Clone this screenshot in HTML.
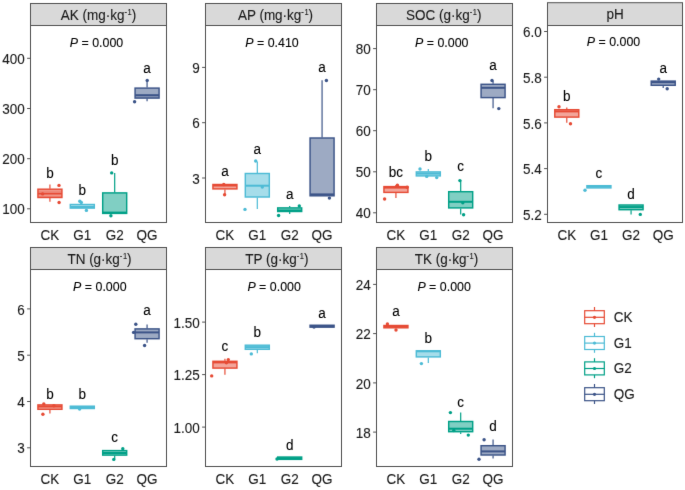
<!DOCTYPE html>
<html><head><meta charset="utf-8"><style>
html,body{margin:0;padding:0;background:#fff;}
svg{display:block;font-family:"Liberation Sans", sans-serif;}
text{stroke:#000;stroke-width:0.1px;paint-order:stroke;}
</style></head><body>
<svg width="685" height="490" viewBox="0 0 685 490">
<defs><filter id="bl" x="0" y="0" width="685" height="490" filterUnits="userSpaceOnUse" color-interpolation-filters="sRGB"><feConvolveMatrix order="3" kernelMatrix="0.0052 0.0619 0.0052 0.0619 0.7314 0.0619 0.0052 0.0619 0.0052" edgeMode="duplicate"/></filter>
<filter id="bt" x="0" y="0" width="685" height="490" filterUnits="userSpaceOnUse" color-interpolation-filters="sRGB"><feConvolveMatrix order="3" kernelMatrix="0.0052 0.0619 0.0052 0.0619 0.7314 0.0619 0.0052 0.0619 0.0052" edgeMode="duplicate"/></filter></defs>
<g filter="url(#bl)"><rect width="685" height="490" fill="#fff"/>
<rect x="30.5" y="3.5" width="136" height="22" fill="#D9D9D9" stroke="#505050" stroke-width="1"/>
<rect x="30.5" y="25.5" width="136" height="197" fill="#fff" stroke="#505050" stroke-width="1"/>
<line x1="27.1" y1="208.8" x2="30.5" y2="208.8" stroke="#505050" stroke-width="1"/>
<line x1="27.1" y1="158.7" x2="30.5" y2="158.7" stroke="#505050" stroke-width="1"/>
<line x1="27.1" y1="108.5" x2="30.5" y2="108.5" stroke="#505050" stroke-width="1"/>
<line x1="27.1" y1="58.3" x2="30.5" y2="58.3" stroke="#505050" stroke-width="1"/>
<line x1="49.93" y1="184.6" x2="49.93" y2="188.7" stroke="#E64B35" stroke-width="1.2"/>
<line x1="49.93" y1="198" x2="49.93" y2="201.8" stroke="#E64B35" stroke-width="1.2"/>
<rect x="37.93" y="189.2" width="24" height="8.3" fill="#F3A59A" stroke="#E64B35" stroke-width="1.45"/>
<line x1="37.93" y1="191.2" x2="61.93" y2="191.2" stroke="#E64B35" stroke-width="0.8" opacity="0.6"/>
<line x1="37.93" y1="196.2" x2="61.93" y2="196.2" stroke="#E64B35" stroke-width="0.8" opacity="0.6"/>
<line x1="37.93" y1="193.6" x2="61.93" y2="193.6" stroke="#E64B35" stroke-width="2.0"/>
<circle cx="59" cy="185.4" r="1.7" fill="#E64B35"/>
<circle cx="59.1" cy="202.5" r="1.7" fill="#E64B35"/>
<circle cx="42.6" cy="193.9" r="1.7" fill="#E64B35"/>
<rect x="70.31" y="204.5" width="24" height="3.6" fill="#A6DDEA" stroke="#4DBBD5" stroke-width="1.45"/>
<line x1="70.31" y1="207" x2="94.31" y2="207" stroke="#4DBBD5" stroke-width="2.0"/>
<circle cx="79.8" cy="201.2" r="1.7" fill="#4DBBD5"/>
<circle cx="81.3" cy="202.5" r="1.7" fill="#4DBBD5"/>
<circle cx="86.4" cy="210.4" r="1.7" fill="#4DBBD5"/>
<line x1="114.69" y1="172.9" x2="114.69" y2="192.4" stroke="#00A087" stroke-width="1.2"/>
<rect x="102.69" y="192.9" width="24" height="20.5" fill="#80CFC3" stroke="#00A087" stroke-width="1.45"/>
<line x1="102.69" y1="212.6" x2="126.69" y2="212.6" stroke="#00A087" stroke-width="2.0"/>
<circle cx="111.7" cy="172.9" r="1.7" fill="#00A087"/>
<circle cx="110.9" cy="215.7" r="1.7" fill="#00A087"/>
<line x1="147.07" y1="80.4" x2="147.07" y2="87.6" stroke="#3C5488" stroke-width="1.2"/>
<line x1="147.07" y1="98.6" x2="147.07" y2="101.3" stroke="#3C5488" stroke-width="1.2"/>
<rect x="135.07" y="88.1" width="24" height="10" fill="#9DAAC3" stroke="#3C5488" stroke-width="1.45"/>
<line x1="135.07" y1="97.2" x2="159.07" y2="97.2" stroke="#3C5488" stroke-width="0.8" opacity="0.6"/>
<line x1="135.07" y1="95.2" x2="159.07" y2="95.2" stroke="#3C5488" stroke-width="2.0"/>
<circle cx="147.2" cy="80.4" r="1.7" fill="#3C5488"/>
<circle cx="134.6" cy="101.8" r="1.7" fill="#3C5488"/>
<rect x="205.5" y="3.5" width="136" height="22" fill="#D9D9D9" stroke="#505050" stroke-width="1"/>
<rect x="205.5" y="25.5" width="136" height="197" fill="#fff" stroke="#505050" stroke-width="1"/>
<line x1="202.1" y1="178" x2="205.5" y2="178" stroke="#505050" stroke-width="1"/>
<line x1="202.1" y1="122.7" x2="205.5" y2="122.7" stroke="#505050" stroke-width="1"/>
<line x1="202.1" y1="67.4" x2="205.5" y2="67.4" stroke="#505050" stroke-width="1"/>
<line x1="224.93" y1="189.4" x2="224.93" y2="194.3" stroke="#E64B35" stroke-width="1.2"/>
<rect x="212.93" y="184.5" width="24" height="4.4" fill="#F3A59A" stroke="#E64B35" stroke-width="1.45"/>
<line x1="212.93" y1="185.5" x2="236.93" y2="185.5" stroke="#E64B35" stroke-width="2.0"/>
<circle cx="223.8" cy="184.5" r="1.7" fill="#E64B35"/>
<circle cx="224.6" cy="194.8" r="1.7" fill="#E64B35"/>
<line x1="257.31" y1="161.5" x2="257.31" y2="173" stroke="#4DBBD5" stroke-width="1.2"/>
<line x1="257.31" y1="197.5" x2="257.31" y2="209" stroke="#4DBBD5" stroke-width="1.2"/>
<rect x="245.31" y="173.5" width="24" height="23.5" fill="#A6DDEA" stroke="#4DBBD5" stroke-width="1.45"/>
<line x1="245.31" y1="185.7" x2="269.31" y2="185.7" stroke="#4DBBD5" stroke-width="2.0"/>
<circle cx="255.7" cy="161" r="1.7" fill="#4DBBD5"/>
<circle cx="245" cy="209.4" r="1.7" fill="#4DBBD5"/>
<circle cx="262.3" cy="187" r="1.7" fill="#4DBBD5"/>
<line x1="289.69" y1="206" x2="289.69" y2="207.4" stroke="#00A087" stroke-width="1.2"/>
<line x1="289.69" y1="212" x2="289.69" y2="214" stroke="#00A087" stroke-width="1.2"/>
<rect x="277.69" y="207.9" width="24" height="3.6" fill="#80CFC3" stroke="#00A087" stroke-width="1.45"/>
<line x1="277.69" y1="210.5" x2="301.69" y2="210.5" stroke="#00A087" stroke-width="2.0"/>
<circle cx="278.6" cy="215.5" r="1.7" fill="#00A087"/>
<circle cx="299.3" cy="205.9" r="1.7" fill="#00A087"/>
<line x1="322.07" y1="80.2" x2="322.07" y2="137.5" stroke="#3C5488" stroke-width="1.2"/>
<rect x="310.07" y="138" width="24" height="57.8" fill="#9DAAC3" stroke="#3C5488" stroke-width="1.45"/>
<line x1="310.07" y1="194.4" x2="334.07" y2="194.4" stroke="#3C5488" stroke-width="2.0"/>
<circle cx="326.4" cy="80.5" r="1.7" fill="#3C5488"/>
<circle cx="329.4" cy="198.1" r="1.7" fill="#3C5488"/>
<rect x="376.5" y="3.5" width="136" height="22" fill="#D9D9D9" stroke="#505050" stroke-width="1"/>
<rect x="376.5" y="25.5" width="136" height="197" fill="#fff" stroke="#505050" stroke-width="1"/>
<line x1="373.1" y1="212.8" x2="376.5" y2="212.8" stroke="#505050" stroke-width="1"/>
<line x1="373.1" y1="171.8" x2="376.5" y2="171.8" stroke="#505050" stroke-width="1"/>
<line x1="373.1" y1="130.7" x2="376.5" y2="130.7" stroke="#505050" stroke-width="1"/>
<line x1="373.1" y1="89.7" x2="376.5" y2="89.7" stroke="#505050" stroke-width="1"/>
<line x1="373.1" y1="48.6" x2="376.5" y2="48.6" stroke="#505050" stroke-width="1"/>
<line x1="395.93" y1="185" x2="395.93" y2="186.1" stroke="#E64B35" stroke-width="1.2"/>
<line x1="395.93" y1="192.9" x2="395.93" y2="197.9" stroke="#E64B35" stroke-width="1.2"/>
<rect x="383.93" y="186.6" width="24" height="5.8" fill="#F3A59A" stroke="#E64B35" stroke-width="1.45"/>
<line x1="383.93" y1="187.6" x2="407.93" y2="187.6" stroke="#E64B35" stroke-width="2.0"/>
<circle cx="384.6" cy="199" r="1.7" fill="#E64B35"/>
<circle cx="397.4" cy="185.3" r="1.7" fill="#E64B35"/>
<circle cx="407.1" cy="187.3" r="1.7" fill="#E64B35"/>
<line x1="428.31" y1="169" x2="428.31" y2="171.4" stroke="#4DBBD5" stroke-width="1.2"/>
<rect x="416.31" y="171.9" width="24" height="4" fill="#A6DDEA" stroke="#4DBBD5" stroke-width="1.45"/>
<line x1="416.31" y1="173.6" x2="440.31" y2="173.6" stroke="#4DBBD5" stroke-width="2.0"/>
<circle cx="420" cy="169" r="1.7" fill="#4DBBD5"/>
<circle cx="426.7" cy="176.4" r="1.7" fill="#4DBBD5"/>
<circle cx="436.7" cy="177.6" r="1.7" fill="#4DBBD5"/>
<line x1="460.69" y1="180.6" x2="460.69" y2="191.2" stroke="#00A087" stroke-width="1.2"/>
<line x1="460.69" y1="208.4" x2="460.69" y2="214.4" stroke="#00A087" stroke-width="1.2"/>
<rect x="448.69" y="191.7" width="24" height="16.2" fill="#80CFC3" stroke="#00A087" stroke-width="1.45"/>
<line x1="448.69" y1="201.8" x2="472.69" y2="201.8" stroke="#00A087" stroke-width="2.0"/>
<circle cx="459.9" cy="180.6" r="1.7" fill="#00A087"/>
<circle cx="463.6" cy="214.8" r="1.7" fill="#00A087"/>
<circle cx="462.8" cy="202.7" r="1.7" fill="#00A087"/>
<line x1="493.07" y1="80.7" x2="493.07" y2="83.8" stroke="#3C5488" stroke-width="1.2"/>
<line x1="493.07" y1="98.1" x2="493.07" y2="108.2" stroke="#3C5488" stroke-width="1.2"/>
<rect x="481.07" y="84.3" width="24" height="13.3" fill="#9DAAC3" stroke="#3C5488" stroke-width="1.45"/>
<line x1="481.07" y1="87.8" x2="505.07" y2="87.8" stroke="#3C5488" stroke-width="2.0"/>
<circle cx="492" cy="80.5" r="1.7" fill="#3C5488"/>
<circle cx="498.8" cy="108.6" r="1.7" fill="#3C5488"/>
<rect x="547.5" y="2.7" width="135" height="22.8" fill="#D9D9D9" stroke="#505050" stroke-width="1"/>
<rect x="547.5" y="25.5" width="135" height="197" fill="#fff" stroke="#505050" stroke-width="1"/>
<line x1="544.1" y1="214.3" x2="547.5" y2="214.3" stroke="#505050" stroke-width="1"/>
<line x1="544.1" y1="168.6" x2="547.5" y2="168.6" stroke="#505050" stroke-width="1"/>
<line x1="544.1" y1="122.9" x2="547.5" y2="122.9" stroke="#505050" stroke-width="1"/>
<line x1="544.1" y1="77.2" x2="547.5" y2="77.2" stroke="#505050" stroke-width="1"/>
<line x1="544.1" y1="31.5" x2="547.5" y2="31.5" stroke="#505050" stroke-width="1"/>
<line x1="566.79" y1="107.6" x2="566.79" y2="109.2" stroke="#E64B35" stroke-width="1.2"/>
<line x1="566.79" y1="117.6" x2="566.79" y2="122.7" stroke="#E64B35" stroke-width="1.2"/>
<rect x="554.79" y="109.7" width="24" height="7.4" fill="#F3A59A" stroke="#E64B35" stroke-width="1.45"/>
<line x1="554.79" y1="111.4" x2="578.79" y2="111.4" stroke="#E64B35" stroke-width="2.0"/>
<circle cx="559" cy="106.8" r="1.7" fill="#E64B35"/>
<circle cx="570.5" cy="123.7" r="1.7" fill="#E64B35"/>
<rect x="586.93" y="185.7" width="24" height="2.2" fill="#A6DDEA" stroke="#4DBBD5" stroke-width="1.45"/>
<line x1="586.93" y1="186.6" x2="610.93" y2="186.6" stroke="#4DBBD5" stroke-width="2.0"/>
<circle cx="585" cy="190.3" r="1.7" fill="#4DBBD5"/>
<line x1="631.07" y1="210.2" x2="631.07" y2="214.5" stroke="#00A087" stroke-width="1.2"/>
<rect x="619.07" y="205" width="24" height="4.7" fill="#80CFC3" stroke="#00A087" stroke-width="1.45"/>
<line x1="619.07" y1="207.1" x2="643.07" y2="207.1" stroke="#00A087" stroke-width="2.0"/>
<circle cx="640.3" cy="214.4" r="1.7" fill="#00A087"/>
<line x1="663.21" y1="85.8" x2="663.21" y2="88.1" stroke="#3C5488" stroke-width="1.2"/>
<rect x="651.21" y="81.1" width="24" height="4.2" fill="#9DAAC3" stroke="#3C5488" stroke-width="1.45"/>
<line x1="651.21" y1="82.2" x2="675.21" y2="82.2" stroke="#3C5488" stroke-width="2.0"/>
<circle cx="658.7" cy="79.1" r="1.7" fill="#3C5488"/>
<circle cx="667.2" cy="88.8" r="1.7" fill="#3C5488"/>
<rect x="30.5" y="247.5" width="136" height="22" fill="#D9D9D9" stroke="#505050" stroke-width="1"/>
<rect x="30.5" y="269.5" width="136" height="197" fill="#fff" stroke="#505050" stroke-width="1"/>
<line x1="27.1" y1="447.8" x2="30.5" y2="447.8" stroke="#505050" stroke-width="1"/>
<line x1="27.1" y1="401.5" x2="30.5" y2="401.5" stroke="#505050" stroke-width="1"/>
<line x1="27.1" y1="355.2" x2="30.5" y2="355.2" stroke="#505050" stroke-width="1"/>
<line x1="27.1" y1="308.9" x2="30.5" y2="308.9" stroke="#505050" stroke-width="1"/>
<line x1="49.93" y1="409.8" x2="49.93" y2="413.5" stroke="#E64B35" stroke-width="1.2"/>
<rect x="37.93" y="404.9" width="24" height="4.4" fill="#F3A59A" stroke="#E64B35" stroke-width="1.45"/>
<line x1="37.93" y1="406.5" x2="61.93" y2="406.5" stroke="#E64B35" stroke-width="2.0"/>
<circle cx="42.9" cy="414.2" r="1.7" fill="#E64B35"/>
<circle cx="43.8" cy="403.9" r="1.7" fill="#E64B35"/>
<circle cx="53.9" cy="405.7" r="1.7" fill="#E64B35"/>
<rect x="70.31" y="406.2" width="24" height="2.3" fill="#A6DDEA" stroke="#4DBBD5" stroke-width="1.45"/>
<line x1="70.31" y1="407.3" x2="94.31" y2="407.3" stroke="#4DBBD5" stroke-width="2.0"/>
<circle cx="79.6" cy="409" r="1.7" fill="#4DBBD5"/>
<line x1="114.69" y1="455.6" x2="114.69" y2="459" stroke="#00A087" stroke-width="1.2"/>
<rect x="102.69" y="450.6" width="24" height="4.5" fill="#80CFC3" stroke="#00A087" stroke-width="1.45"/>
<line x1="102.69" y1="453" x2="126.69" y2="453" stroke="#00A087" stroke-width="2.0"/>
<circle cx="113.8" cy="459.4" r="1.7" fill="#00A087"/>
<circle cx="122.8" cy="448.8" r="1.7" fill="#00A087"/>
<line x1="147.07" y1="324.5" x2="147.07" y2="328.4" stroke="#3C5488" stroke-width="1.2"/>
<line x1="147.07" y1="339.2" x2="147.07" y2="342.8" stroke="#3C5488" stroke-width="1.2"/>
<rect x="135.07" y="328.9" width="24" height="9.8" fill="#9DAAC3" stroke="#3C5488" stroke-width="1.45"/>
<line x1="135.07" y1="332.4" x2="159.07" y2="332.4" stroke="#3C5488" stroke-width="2.0"/>
<circle cx="135.8" cy="324.2" r="1.7" fill="#3C5488"/>
<circle cx="144.6" cy="345.5" r="1.7" fill="#3C5488"/>
<circle cx="133.6" cy="332.4" r="1.7" fill="#3C5488"/>
<rect x="205.5" y="247.5" width="136" height="22" fill="#D9D9D9" stroke="#505050" stroke-width="1"/>
<rect x="205.5" y="269.5" width="136" height="197" fill="#fff" stroke="#505050" stroke-width="1"/>
<line x1="202.1" y1="427.1" x2="205.5" y2="427.1" stroke="#505050" stroke-width="1"/>
<line x1="202.1" y1="374.6" x2="205.5" y2="374.6" stroke="#505050" stroke-width="1"/>
<line x1="202.1" y1="322.1" x2="205.5" y2="322.1" stroke="#505050" stroke-width="1"/>
<line x1="224.93" y1="358.8" x2="224.93" y2="360.8" stroke="#E64B35" stroke-width="1.2"/>
<line x1="224.93" y1="368.6" x2="224.93" y2="374.7" stroke="#E64B35" stroke-width="1.2"/>
<rect x="212.93" y="361.3" width="24" height="6.8" fill="#F3A59A" stroke="#E64B35" stroke-width="1.45"/>
<line x1="212.93" y1="362.4" x2="236.93" y2="362.4" stroke="#E64B35" stroke-width="2.0"/>
<circle cx="211.7" cy="375.9" r="1.7" fill="#E64B35"/>
<circle cx="228.3" cy="359.6" r="1.7" fill="#E64B35"/>
<circle cx="226.4" cy="362.8" r="1.7" fill="#E64B35"/>
<line x1="257.31" y1="349.8" x2="257.31" y2="353.3" stroke="#4DBBD5" stroke-width="1.2"/>
<rect x="245.31" y="345.2" width="24" height="4.1" fill="#A6DDEA" stroke="#4DBBD5" stroke-width="1.45"/>
<line x1="245.31" y1="347.1" x2="269.31" y2="347.1" stroke="#4DBBD5" stroke-width="2.0"/>
<circle cx="251.3" cy="353.9" r="1.7" fill="#4DBBD5"/>
<rect x="277.69" y="457.05" width="24" height="2.3" fill="#80CFC3" stroke="#00A087" stroke-width="1.45"/>
<line x1="277.69" y1="458.2" x2="301.69" y2="458.2" stroke="#00A087" stroke-width="2.0"/>
<circle cx="277" cy="459" r="1.7" fill="#00A087"/>
<rect x="310.07" y="325.25" width="24" height="1.9" fill="#9DAAC3" stroke="#3C5488" stroke-width="1.45"/>
<line x1="310.07" y1="326.2" x2="334.07" y2="326.2" stroke="#3C5488" stroke-width="2.0"/>
<circle cx="314" cy="327" r="1.7" fill="#3C5488"/>
<rect x="376.5" y="247.5" width="136" height="22" fill="#D9D9D9" stroke="#505050" stroke-width="1"/>
<rect x="376.5" y="269.5" width="136" height="197" fill="#fff" stroke="#505050" stroke-width="1"/>
<line x1="373.1" y1="432.1" x2="376.5" y2="432.1" stroke="#505050" stroke-width="1"/>
<line x1="373.1" y1="382.9" x2="376.5" y2="382.9" stroke="#505050" stroke-width="1"/>
<line x1="373.1" y1="333.6" x2="376.5" y2="333.6" stroke="#505050" stroke-width="1"/>
<line x1="373.1" y1="284.4" x2="376.5" y2="284.4" stroke="#505050" stroke-width="1"/>
<rect x="383.93" y="325.5" width="24" height="2.3" fill="#F3A59A" stroke="#E64B35" stroke-width="1.45"/>
<line x1="383.93" y1="326.6" x2="407.93" y2="326.6" stroke="#E64B35" stroke-width="2.0"/>
<circle cx="387.4" cy="324" r="1.7" fill="#E64B35"/>
<circle cx="396" cy="330" r="1.7" fill="#E64B35"/>
<line x1="428.31" y1="357.4" x2="428.31" y2="362.9" stroke="#4DBBD5" stroke-width="1.2"/>
<rect x="416.31" y="350.8" width="24" height="6.1" fill="#A6DDEA" stroke="#4DBBD5" stroke-width="1.45"/>
<line x1="416.31" y1="351.3" x2="440.31" y2="351.3" stroke="#4DBBD5" stroke-width="2.0"/>
<circle cx="421.4" cy="363.6" r="1.7" fill="#4DBBD5"/>
<line x1="460.69" y1="412.6" x2="460.69" y2="421" stroke="#00A087" stroke-width="1.2"/>
<line x1="460.69" y1="432.2" x2="460.69" y2="434" stroke="#00A087" stroke-width="1.2"/>
<rect x="448.69" y="421.5" width="24" height="10.2" fill="#80CFC3" stroke="#00A087" stroke-width="1.45"/>
<line x1="448.69" y1="428.7" x2="472.69" y2="428.7" stroke="#00A087" stroke-width="2.0"/>
<circle cx="450.4" cy="412.6" r="1.7" fill="#00A087"/>
<circle cx="468.3" cy="435.1" r="1.7" fill="#00A087"/>
<circle cx="453.8" cy="430.5" r="1.7" fill="#00A087"/>
<line x1="493.07" y1="439.4" x2="493.07" y2="445.2" stroke="#3C5488" stroke-width="1.2"/>
<line x1="493.07" y1="455.5" x2="493.07" y2="458.6" stroke="#3C5488" stroke-width="1.2"/>
<rect x="481.07" y="445.7" width="24" height="9.3" fill="#9DAAC3" stroke="#3C5488" stroke-width="1.45"/>
<line x1="481.07" y1="451.4" x2="505.07" y2="451.4" stroke="#3C5488" stroke-width="2.0"/>
<circle cx="484.1" cy="439.7" r="1.7" fill="#3C5488"/>
<circle cx="479" cy="459.3" r="1.7" fill="#3C5488"/>
<line x1="594.5" y1="307" x2="594.5" y2="327" stroke="#E64B35" stroke-width="1.2"/>
<rect x="584.7" y="310.7" width="19.6" height="13" fill="#fff" stroke="#E64B35" stroke-width="1.2"/>
<line x1="584.7" y1="317.3" x2="604.3" y2="317.3" stroke="#E64B35" stroke-width="1.2"/>
<circle cx="594.5" cy="317.3" r="1.6" fill="#E64B35"/>
<line x1="594.5" y1="332.8" x2="594.5" y2="352.8" stroke="#4DBBD5" stroke-width="1.2"/>
<rect x="584.7" y="336.5" width="19.6" height="13" fill="#fff" stroke="#4DBBD5" stroke-width="1.2"/>
<line x1="584.7" y1="343.1" x2="604.3" y2="343.1" stroke="#4DBBD5" stroke-width="1.2"/>
<circle cx="594.5" cy="343.1" r="1.6" fill="#4DBBD5"/>
<line x1="594.5" y1="358.2" x2="594.5" y2="378.2" stroke="#00A087" stroke-width="1.2"/>
<rect x="584.7" y="361.9" width="19.6" height="13" fill="#fff" stroke="#00A087" stroke-width="1.2"/>
<line x1="584.7" y1="368.5" x2="604.3" y2="368.5" stroke="#00A087" stroke-width="1.2"/>
<circle cx="594.5" cy="368.5" r="1.6" fill="#00A087"/>
<line x1="594.5" y1="384" x2="594.5" y2="404" stroke="#3C5488" stroke-width="1.2"/>
<rect x="584.7" y="387.7" width="19.6" height="13" fill="#fff" stroke="#3C5488" stroke-width="1.2"/>
<line x1="584.7" y1="394.3" x2="604.3" y2="394.3" stroke="#3C5488" stroke-width="1.2"/>
<circle cx="594.5" cy="394.3" r="1.6" fill="#3C5488"/>
</g>
<g filter="url(#bt)">
<text transform="translate(98.5,19.6) scale(1,1.09)" text-anchor="middle" font-size="13.5" fill="#1a1a1a">AK (mg·kg<tspan font-size="7.5" dy="-4.6">-</tspan><tspan font-size="7.5" dx="0.6">1</tspan><tspan dy="4.6">)</tspan></text>
<text transform="translate(96.5,47.1) scale(1,1.09)" text-anchor="middle" font-size="12.4" fill="#000"><tspan font-style="italic">P</tspan> = 0.000</text>
<text transform="translate(24.7,214.4) scale(1,1.09)" text-anchor="end" font-size="13.5" fill="#1a1a1a">100</text>
<text transform="translate(24.7,164.3) scale(1,1.09)" text-anchor="end" font-size="13.5" fill="#1a1a1a">200</text>
<text transform="translate(24.7,114.1) scale(1,1.09)" text-anchor="end" font-size="13.5" fill="#1a1a1a">300</text>
<text transform="translate(24.7,63.9) scale(1,1.09)" text-anchor="end" font-size="13.5" fill="#1a1a1a">400</text>
<text transform="translate(49.93,239.9) scale(1,1.09)" text-anchor="middle" font-size="13.5" fill="#1a1a1a">CK</text>
<text transform="translate(82.31,239.9) scale(1,1.09)" text-anchor="middle" font-size="13.5" fill="#1a1a1a">G1</text>
<text transform="translate(114.69,239.9) scale(1,1.09)" text-anchor="middle" font-size="13.5" fill="#1a1a1a">G2</text>
<text transform="translate(147.07,239.9) scale(1,1.09)" text-anchor="middle" font-size="13.5" fill="#1a1a1a">QG</text>
<text transform="translate(49.93,178.1) scale(1,1.04)" text-anchor="middle" font-size="13.5" fill="#000">b</text>
<text transform="translate(82.31,194.5) scale(1,1.04)" text-anchor="middle" font-size="13.5" fill="#000">b</text>
<text transform="translate(114.69,164.7) scale(1,1.04)" text-anchor="middle" font-size="13.5" fill="#000">b</text>
<text transform="translate(147.07,73.3) scale(1,1.04)" text-anchor="middle" font-size="13.5" fill="#000">a</text>
<text transform="translate(275.5,19.6) scale(1,1.09)" text-anchor="middle" font-size="13.5" fill="#1a1a1a">AP (mg·kg<tspan font-size="7.5" dy="-4.6">-</tspan><tspan font-size="7.5" dx="0.6">1</tspan><tspan dy="4.6">)</tspan></text>
<text transform="translate(272,47.1) scale(1,1.09)" text-anchor="middle" font-size="12.4" fill="#000"><tspan font-style="italic">P</tspan> = 0.410</text>
<text transform="translate(199.7,183.6) scale(1,1.09)" text-anchor="end" font-size="13.5" fill="#1a1a1a">3</text>
<text transform="translate(199.7,128.3) scale(1,1.09)" text-anchor="end" font-size="13.5" fill="#1a1a1a">6</text>
<text transform="translate(199.7,73) scale(1,1.09)" text-anchor="end" font-size="13.5" fill="#1a1a1a">9</text>
<text transform="translate(224.93,239.9) scale(1,1.09)" text-anchor="middle" font-size="13.5" fill="#1a1a1a">CK</text>
<text transform="translate(257.31,239.9) scale(1,1.09)" text-anchor="middle" font-size="13.5" fill="#1a1a1a">G1</text>
<text transform="translate(289.69,239.9) scale(1,1.09)" text-anchor="middle" font-size="13.5" fill="#1a1a1a">G2</text>
<text transform="translate(322.07,239.9) scale(1,1.09)" text-anchor="middle" font-size="13.5" fill="#1a1a1a">QG</text>
<text transform="translate(224.93,176) scale(1,1.04)" text-anchor="middle" font-size="13.5" fill="#000">a</text>
<text transform="translate(257.31,154) scale(1,1.04)" text-anchor="middle" font-size="13.5" fill="#000">a</text>
<text transform="translate(289.69,199.2) scale(1,1.04)" text-anchor="middle" font-size="13.5" fill="#000">a</text>
<text transform="translate(322.07,72) scale(1,1.04)" text-anchor="middle" font-size="13.5" fill="#000">a</text>
<text transform="translate(443.7,19.6) scale(1,1.09)" text-anchor="middle" font-size="13.5" fill="#1a1a1a">SOC (g·kg<tspan font-size="7.5" dy="-4.6">-</tspan><tspan font-size="7.5" dx="0.6">1</tspan><tspan dy="4.6">)</tspan></text>
<text transform="translate(441.7,47.1) scale(1,1.09)" text-anchor="middle" font-size="12.4" fill="#000"><tspan font-style="italic">P</tspan> = 0.000</text>
<text transform="translate(370.7,218.4) scale(1,1.09)" text-anchor="end" font-size="13.5" fill="#1a1a1a">40</text>
<text transform="translate(370.7,177.4) scale(1,1.09)" text-anchor="end" font-size="13.5" fill="#1a1a1a">50</text>
<text transform="translate(370.7,136.3) scale(1,1.09)" text-anchor="end" font-size="13.5" fill="#1a1a1a">60</text>
<text transform="translate(370.7,95.3) scale(1,1.09)" text-anchor="end" font-size="13.5" fill="#1a1a1a">70</text>
<text transform="translate(370.7,54.2) scale(1,1.09)" text-anchor="end" font-size="13.5" fill="#1a1a1a">80</text>
<text transform="translate(395.93,239.9) scale(1,1.09)" text-anchor="middle" font-size="13.5" fill="#1a1a1a">CK</text>
<text transform="translate(428.31,239.9) scale(1,1.09)" text-anchor="middle" font-size="13.5" fill="#1a1a1a">G1</text>
<text transform="translate(460.69,239.9) scale(1,1.09)" text-anchor="middle" font-size="13.5" fill="#1a1a1a">G2</text>
<text transform="translate(493.07,239.9) scale(1,1.09)" text-anchor="middle" font-size="13.5" fill="#1a1a1a">QG</text>
<text transform="translate(395.93,176.6) scale(1,1.04)" text-anchor="middle" font-size="13.5" fill="#000">bc</text>
<text transform="translate(428.31,160.9) scale(1,1.04)" text-anchor="middle" font-size="13.5" fill="#000">b</text>
<text transform="translate(460.69,170.8) scale(1,1.04)" text-anchor="middle" font-size="13.5" fill="#000">c</text>
<text transform="translate(493.07,69.9) scale(1,1.04)" text-anchor="middle" font-size="13.5" fill="#000">a</text>
<text transform="translate(615,19.2) scale(1,1.09)" text-anchor="middle" font-size="13.5" fill="#1a1a1a">pH</text>
<text transform="translate(613.5,46.3) scale(1,1.09)" text-anchor="middle" font-size="12.4" fill="#000"><tspan font-style="italic">P</tspan> = 0.000</text>
<text transform="translate(541.7,219.9) scale(1,1.09)" text-anchor="end" font-size="13.5" fill="#1a1a1a">5.2</text>
<text transform="translate(541.7,174.2) scale(1,1.09)" text-anchor="end" font-size="13.5" fill="#1a1a1a">5.4</text>
<text transform="translate(541.7,128.5) scale(1,1.09)" text-anchor="end" font-size="13.5" fill="#1a1a1a">5.6</text>
<text transform="translate(541.7,82.8) scale(1,1.09)" text-anchor="end" font-size="13.5" fill="#1a1a1a">5.8</text>
<text transform="translate(541.7,37.1) scale(1,1.09)" text-anchor="end" font-size="13.5" fill="#1a1a1a">6.0</text>
<text transform="translate(566.79,239.9) scale(1,1.09)" text-anchor="middle" font-size="13.5" fill="#1a1a1a">CK</text>
<text transform="translate(598.93,239.9) scale(1,1.09)" text-anchor="middle" font-size="13.5" fill="#1a1a1a">G1</text>
<text transform="translate(631.07,239.9) scale(1,1.09)" text-anchor="middle" font-size="13.5" fill="#1a1a1a">G2</text>
<text transform="translate(663.21,239.9) scale(1,1.09)" text-anchor="middle" font-size="13.5" fill="#1a1a1a">QG</text>
<text transform="translate(566.79,101.2) scale(1,1.04)" text-anchor="middle" font-size="13.5" fill="#000">b</text>
<text transform="translate(598.93,178.4) scale(1,1.04)" text-anchor="middle" font-size="13.5" fill="#000">c</text>
<text transform="translate(631.07,199) scale(1,1.04)" text-anchor="middle" font-size="13.5" fill="#000">d</text>
<text transform="translate(663.21,73) scale(1,1.04)" text-anchor="middle" font-size="13.5" fill="#000">a</text>
<text transform="translate(99.5,264.2) scale(1,1.09)" text-anchor="middle" font-size="13.5" fill="#1a1a1a">TN (g·kg<tspan font-size="7.5" dy="-4.6">-</tspan><tspan font-size="7.5" dx="0.6">1</tspan><tspan dy="4.6">)</tspan></text>
<text transform="translate(99.8,290.6) scale(1,1.09)" text-anchor="middle" font-size="12.4" fill="#000"><tspan font-style="italic">P</tspan> = 0.000</text>
<text transform="translate(24.7,453.4) scale(1,1.09)" text-anchor="end" font-size="13.5" fill="#1a1a1a">3</text>
<text transform="translate(24.7,407.1) scale(1,1.09)" text-anchor="end" font-size="13.5" fill="#1a1a1a">4</text>
<text transform="translate(24.7,360.8) scale(1,1.09)" text-anchor="end" font-size="13.5" fill="#1a1a1a">5</text>
<text transform="translate(24.7,314.5) scale(1,1.09)" text-anchor="end" font-size="13.5" fill="#1a1a1a">6</text>
<text transform="translate(49.93,483.9) scale(1,1.09)" text-anchor="middle" font-size="13.5" fill="#1a1a1a">CK</text>
<text transform="translate(82.31,483.9) scale(1,1.09)" text-anchor="middle" font-size="13.5" fill="#1a1a1a">G1</text>
<text transform="translate(114.69,483.9) scale(1,1.09)" text-anchor="middle" font-size="13.5" fill="#1a1a1a">G2</text>
<text transform="translate(147.07,483.9) scale(1,1.09)" text-anchor="middle" font-size="13.5" fill="#1a1a1a">QG</text>
<text transform="translate(49.93,398.9) scale(1,1.04)" text-anchor="middle" font-size="13.5" fill="#000">b</text>
<text transform="translate(82.31,398.9) scale(1,1.04)" text-anchor="middle" font-size="13.5" fill="#000">b</text>
<text transform="translate(114.69,441.6) scale(1,1.04)" text-anchor="middle" font-size="13.5" fill="#000">c</text>
<text transform="translate(147.07,315.2) scale(1,1.04)" text-anchor="middle" font-size="13.5" fill="#000">a</text>
<text transform="translate(276.8,264.2) scale(1,1.09)" text-anchor="middle" font-size="13.5" fill="#1a1a1a">TP (g·kg<tspan font-size="7.5" dy="-4.6">-</tspan><tspan font-size="7.5" dx="0.6">1</tspan><tspan dy="4.6">)</tspan></text>
<text transform="translate(274.1,290.6) scale(1,1.09)" text-anchor="middle" font-size="12.4" fill="#000"><tspan font-style="italic">P</tspan> = 0.000</text>
<text transform="translate(199.7,432.7) scale(1,1.09)" text-anchor="end" font-size="13.5" fill="#1a1a1a">1.00</text>
<text transform="translate(199.7,380.2) scale(1,1.09)" text-anchor="end" font-size="13.5" fill="#1a1a1a">1.25</text>
<text transform="translate(199.7,327.7) scale(1,1.09)" text-anchor="end" font-size="13.5" fill="#1a1a1a">1.50</text>
<text transform="translate(224.93,483.9) scale(1,1.09)" text-anchor="middle" font-size="13.5" fill="#1a1a1a">CK</text>
<text transform="translate(257.31,483.9) scale(1,1.09)" text-anchor="middle" font-size="13.5" fill="#1a1a1a">G1</text>
<text transform="translate(289.69,483.9) scale(1,1.09)" text-anchor="middle" font-size="13.5" fill="#1a1a1a">G2</text>
<text transform="translate(322.07,483.9) scale(1,1.09)" text-anchor="middle" font-size="13.5" fill="#1a1a1a">QG</text>
<text transform="translate(224.93,351.3) scale(1,1.04)" text-anchor="middle" font-size="13.5" fill="#000">c</text>
<text transform="translate(257.31,337.2) scale(1,1.04)" text-anchor="middle" font-size="13.5" fill="#000">b</text>
<text transform="translate(289.69,449.5) scale(1,1.04)" text-anchor="middle" font-size="13.5" fill="#000">d</text>
<text transform="translate(322.07,318.1) scale(1,1.04)" text-anchor="middle" font-size="13.5" fill="#000">a</text>
<text transform="translate(446.5,264.2) scale(1,1.09)" text-anchor="middle" font-size="13.5" fill="#1a1a1a">TK (g·kg<tspan font-size="7.5" dy="-4.6">-</tspan><tspan font-size="7.5" dx="0.6">1</tspan><tspan dy="4.6">)</tspan></text>
<text transform="translate(444.1,290.6) scale(1,1.09)" text-anchor="middle" font-size="12.4" fill="#000"><tspan font-style="italic">P</tspan> = 0.000</text>
<text transform="translate(370.7,437.7) scale(1,1.09)" text-anchor="end" font-size="13.5" fill="#1a1a1a">18</text>
<text transform="translate(370.7,388.5) scale(1,1.09)" text-anchor="end" font-size="13.5" fill="#1a1a1a">20</text>
<text transform="translate(370.7,339.2) scale(1,1.09)" text-anchor="end" font-size="13.5" fill="#1a1a1a">22</text>
<text transform="translate(370.7,290) scale(1,1.09)" text-anchor="end" font-size="13.5" fill="#1a1a1a">24</text>
<text transform="translate(395.93,483.9) scale(1,1.09)" text-anchor="middle" font-size="13.5" fill="#1a1a1a">CK</text>
<text transform="translate(428.31,483.9) scale(1,1.09)" text-anchor="middle" font-size="13.5" fill="#1a1a1a">G1</text>
<text transform="translate(460.69,483.9) scale(1,1.09)" text-anchor="middle" font-size="13.5" fill="#1a1a1a">G2</text>
<text transform="translate(493.07,483.9) scale(1,1.09)" text-anchor="middle" font-size="13.5" fill="#1a1a1a">QG</text>
<text transform="translate(395.93,315.5) scale(1,1.04)" text-anchor="middle" font-size="13.5" fill="#000">a</text>
<text transform="translate(428.31,342.6) scale(1,1.04)" text-anchor="middle" font-size="13.5" fill="#000">b</text>
<text transform="translate(460.69,406.5) scale(1,1.04)" text-anchor="middle" font-size="13.5" fill="#000">c</text>
<text transform="translate(493.07,431) scale(1,1.04)" text-anchor="middle" font-size="13.5" fill="#000">d</text>
<text transform="translate(613.8,322.1) scale(1,1.09)" text-anchor="start" font-size="13.5" fill="#1a1a1a">CK</text>
<text transform="translate(613.8,347.9) scale(1,1.09)" text-anchor="start" font-size="13.5" fill="#1a1a1a">G1</text>
<text transform="translate(613.8,373.3) scale(1,1.09)" text-anchor="start" font-size="13.5" fill="#1a1a1a">G2</text>
<text transform="translate(613.8,399.1) scale(1,1.09)" text-anchor="start" font-size="13.5" fill="#1a1a1a">QG</text>
</g>
</svg>
</body></html>
